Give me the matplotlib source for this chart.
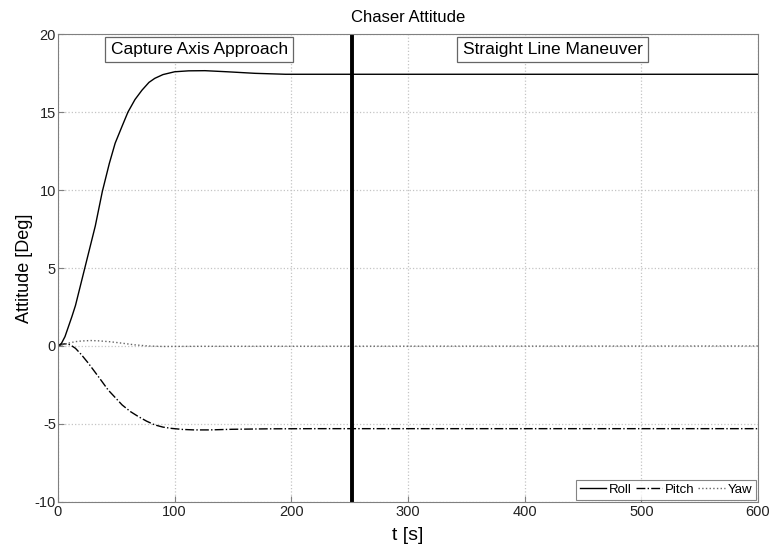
import matplotlib
matplotlib.use("Agg")
import matplotlib.pyplot as plt

plt.rcParams['font.family'] = ['Liberation Sans', 'DejaVu Sans']
plt.rcParams['axes.unicode_minus'] = False

# Data
roll_t = [0, 3, 6, 9, 12, 15, 19, 23, 27, 32, 38, 44, 49, 55, 60, 66, 72, 78, 83, 90, 100, 112, 126, 145, 169, 195, 600]
roll_v = [0, 0.17, 0.6, 1.25, 1.9, 2.6, 3.8, 5.0, 6.2, 7.7, 9.9, 11.7, 13.0, 14.1, 15.0, 15.8, 16.4, 16.9, 17.16, 17.4, 17.58, 17.64, 17.65, 17.58, 17.48, 17.42, 17.42]

pitch_t = [0, 4, 8, 11, 15, 20, 26, 30, 35, 43, 49, 55, 62, 69, 76, 83, 90, 97, 107, 117, 130, 149, 180, 220, 600]
pitch_v = [0, 0.12, 0.15, 0.05, -0.15, -0.55, -1.1, -1.5, -2.0, -2.82, -3.3, -3.78, -4.2, -4.53, -4.82, -5.06, -5.2, -5.28, -5.35, -5.38, -5.38, -5.34, -5.31, -5.3, -5.3]

yaw_t = [0, 5, 10, 15, 20, 28, 35, 45, 55, 65, 77, 90, 120, 600]
yaw_v = [0, 0.1, 0.2, 0.28, 0.32, 0.35, 0.33, 0.27, 0.18, 0.08, 0.0, -0.03, -0.02, 0.0]

switch_t = 252
xticks = [0, 100, 200, 300, 400, 500, 600]
yticks = [-10, -5, 0, 5, 10, 15, 20]

fig = plt.figure(figsize=(7.71, 5.47), dpi=100)
ax = fig.add_axes([0.0752, 0.0823, 0.9079, 0.8555])

ax.plot(roll_t, roll_v, color='black', lw=1.0, ls='-', label='Roll')
ax.plot(pitch_t, pitch_v, color='black', lw=1.0, ls='-.', label='Pitch')
ax.plot(yaw_t, yaw_v, color='#666666', lw=1.0, ls=':', label='Yaw')
ax.axvline(switch_t, color='black', lw=2.8)

ax.set_xlim(0, 600)
ax.set_ylim(-10, 20)
ax.set_xticks(xticks)
ax.set_yticks(yticks)
ax.grid(True, ls=':', color='#c4c4c4', lw=0.9)
ax.tick_params(direction='in', length=4, colors='#808080', labelcolor='#222222', labelsize=10.5)
ax.tick_params(axis='x', pad=2)
ax.tick_params(axis='y', pad=1.5)
for s in ax.spines.values():
    s.set_color('#808080')

ax.set_title('Chaser Attitude', fontsize=12, pad=9)
ax.set_xlabel('t [s]', fontsize=14, labelpad=6)
ax.set_ylabel('Attitude [Deg]', fontsize=13, labelpad=1)

bbox = dict(boxstyle='square,pad=0.3', fc='white', ec='#666666', lw=0.9)
ax.text(121, 19.0, 'Capture Axis Approach', fontsize=12.5, ha='center', va='center', bbox=bbox)
ax.text(424, 19.0, 'Straight Line Maneuver', fontsize=12.5, ha='center', va='center', bbox=bbox)

leg = ax.legend(loc='lower right', ncol=3, fontsize=9.5, frameon=True, fancybox=False,
                edgecolor='#666666', handlelength=2.0, handletextpad=0.2, columnspacing=0.3,
                borderpad=0.3, borderaxespad=0.15)
leg.get_frame().set_linewidth(0.8)

fig.savefig('out.png', dpi=100)
